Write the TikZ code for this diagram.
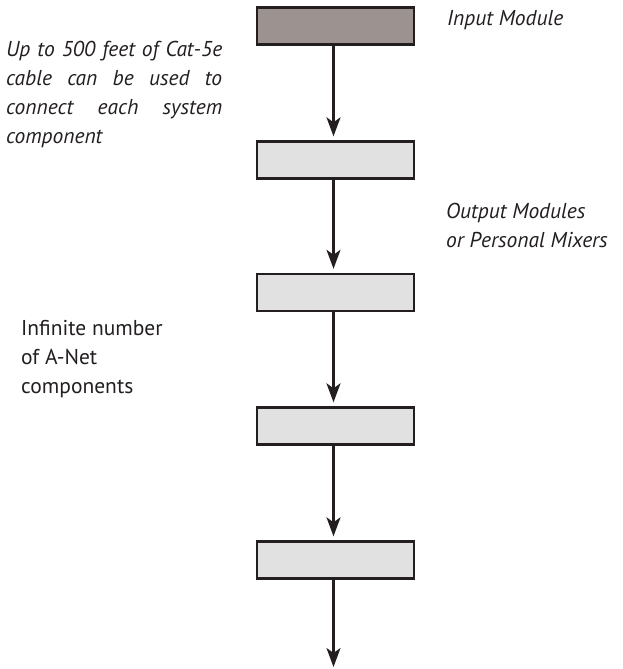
\documentclass[tikz,border=0pt]{standalone}
\usepackage{fontspec}
\setmainfont{PT Sans}
\usetikzlibrary{arrows.meta}
\definecolor{linec}{HTML}{231F20}
\definecolor{boxgray}{HTML}{E1E1E1}
\definecolor{inbox}{HTML}{9C928F}
\definecolor{txt}{HTML}{231F20}
\begin{document}
\begin{tikzpicture}[x=1pt,y=1pt,
  mod/.style={draw=linec, line width=2.4pt, fill=boxgray, minimum width=157pt, minimum height=37pt, inner sep=0pt},
  inmod/.style={mod, fill=inbox},
  conn/.style={draw=linec, line width=2.2pt, shorten >=4pt, -{Stealth[length=19pt,width=14pt,inset=5pt]}},
  lbl/.style={anchor=base west, inner sep=0pt, text=txt, font=\fontsize{21.5}{29}\selectfont},
  ilbl/.style={lbl, font=\fontsize{21.5}{29}\selectfont\itshape}
]
\useasboundingbox (0,0) rectangle (623,-669);
\node[inmod] (b1) at (335.5,-26) {};
\node[mod] (b2) at (335.5,-160) {};
\node[mod] (b3) at (335.5,-292.5) {};
\node[mod] (b4) at (335.5,-426) {};
\node[mod] (b5) at (335.5,-560) {};
\coordinate (end) at (333.5,-671);
\draw[conn] ([xshift=-2pt]b1.south) -- ([xshift=-2pt]b2.north);
\draw[conn] ([xshift=-2pt]b2.south) -- ([xshift=-2pt]b3.north);
\draw[conn] ([xshift=-2pt]b3.south) -- ([xshift=-2pt]b4.north);
\draw[conn] ([xshift=-2pt]b4.south) -- ([xshift=-2pt]b5.north);
\draw[conn] ([xshift=-2pt]b5.south) -- (end);

\node[ilbl] (tin) at (447,-26) {Input Module};
\node[ilbl, align=left] (tcab) at (6,-143) {%
\makebox[216pt][s]{Up to 500 feet of Cat-5e}\\
\makebox[216pt][s]{cable can be used to}\\
\makebox[216pt][s]{connect each system}\\
component};
\node[ilbl, align=left] (tout) at (446,-247) {Output Modules\\or Personal Mixers};
\node[lbl, align=left] (tinf) at (21,-393) {Infinite number\\of A-Net\\components};
\end{tikzpicture}
\end{document}
